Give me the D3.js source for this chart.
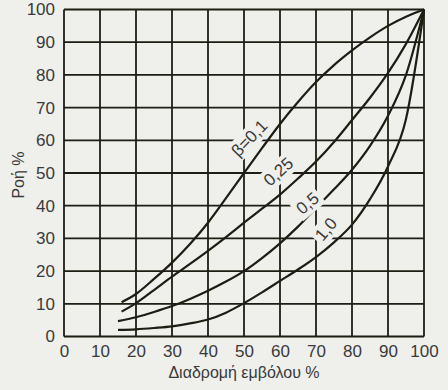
<!DOCTYPE html>
<html>
<head>
<meta charset="utf-8">
<script src="https://cdn.jsdelivr.net/npm/d3@7/dist/d3.min.js"></script>
<style>
  html, body { margin: 0; padding: 0; background: #efefec; }
  svg { display: block; }
  text { font-family: "Liberation Sans", Arial, Helvetica, sans-serif; fill: #3a3a3a; }
</style>
</head>
<body>
<svg id="chart" width="448" height="390"></svg>
<script>
// Axis ticks
const xTicks = [0, 10, 20, 30, 40, 50, 60, 70, 80, 90, 100];
const yTicks = [0, 10, 20, 30, 40, 50, 60, 70, 80, 90, 100];

// Installed flow characteristic for each β: [stroke %, flow %]
const flowBeta01 = [[16, 10.5], [20, 13], [25, 17.6], [30, 22.6], [35, 28.3], [40, 34.8], [45, 42.3], [50, 50],
                    [55, 57.6], [60, 65], [65, 71.7], [70, 77.8], [75, 83], [80, 87.5], [85, 91.5],
                    [90, 95], [95, 97.8], [100, 100]];
const flowBeta025 = [[16, 7.6], [20, 10.2], [25, 14.2], [30, 18.3], [35, 22.2], [40, 26.2], [45, 30.4],
                     [50, 34.8], [55, 39.1], [60, 43.4], [65, 48.3], [70, 53.5], [75, 59.5], [80, 66.2],
                     [85, 73], [90, 80.6], [95, 89.5], [100, 100]];
const flowBeta05 = [[15, 4.7], [20, 5.9], [25, 7.5], [30, 9.3], [35, 11.5], [40, 14], [45, 16.8],
                    [50, 20], [55, 24], [60, 28.5], [65, 33.6], [70, 39.3], [75, 45], [80, 51],
                    [85, 58.3], [90, 67.5], [95, 80], [100, 100]];
const flowBeta10 = [[15, 2], [20, 2.2], [25, 2.6], [30, 3.1], [35, 4], [40, 5.2], [45, 7.3], [50, 10.2],
                    [55, 13.5], [60, 17], [65, 20.5], [70, 24.3], [75, 28.8], [80, 34.2], [85, 42],
                    [90, 52], [95, 66.5], [100, 100]];

const curveLabels = ["β=0,1", "0,25", "0,5", "1,0"];
const xTitle = "Διαδρομή εμβόλου %";
const yTitle = "Ροή %";

const svg = d3.select("#chart");
const bg = "#efefec";
const ink = "#1d1d14";

const x = d3.scaleLinear().domain([0, 100]).range([64, 424]);
const y = d3.scaleLinear().domain([0, 100]).range([336.5, 9.5]);

// Grid
const grid = svg.append("g").attr("stroke", ink).attr("stroke-width", 1.8);
grid.selectAll("line.v").data(xTicks).join("line")
  .attr("x1", d => x(d)).attr("x2", d => x(d))
  .attr("y1", y(0)).attr("y2", y(100));
grid.selectAll("line.h").data(yTicks).join("line")
  .attr("y1", d => y(d)).attr("y2", d => y(d))
  .attr("x1", x(0)).attr("x2", x(100));

// Axes (tick labels only; lines come from the grid)
const xAxis = d3.axisBottom(x).tickValues(xTicks).tickSize(0).tickPadding(8);
const gx = svg.append("g").attr("transform", `translate(0,${y(0)})`).call(xAxis);
gx.select(".domain").remove();
gx.selectAll("text").attr("font-size", 17).attr("font-family", null).attr("fill", "#3a3a3a");

const yAxis = d3.axisLeft(y).tickValues(yTicks).tickSize(0).tickPadding(9);
const gy = svg.append("g").attr("transform", `translate(${x(0)},0)`).call(yAxis);
gy.select(".domain").remove();
gy.selectAll("text").attr("font-size", 17).attr("font-family", null).attr("fill", "#3a3a3a");

// Curve label placement (data coordinates of the label centre, rotation)
const labelPlace = [
  { at: [51.4, 60.7], rot: -46 },
  { at: [59.5, 50.5], rot: -42 },
  { at: [67.6, 40.8], rot: -40 },
  { at: [72.7, 32.9], rot: -50 }
];

const labelG = svg.append("g");
curveLabels.forEach((txt, i) => {
  const p = labelPlace[i];
  const g = labelG.append("g")
    .attr("transform", `translate(${x(p.at[0])},${y(p.at[1])}) rotate(${p.rot})`);
  const t = g.append("text")
    .attr("text-anchor", "middle").attr("dy", "0.36em")
    .attr("font-size", 17).text(txt);
  const b = t.node().getBBox();
  g.insert("rect", "text")
    .attr("x", b.x - 3).attr("y", b.y - 1)
    .attr("width", b.width + 6).attr("height", b.height + 2)
    .attr("fill", bg);
});

// Curves
const line = d3.line().x(d => x(d[0])).y(d => y(d[1])).curve(d3.curveMonotoneX);
const curves = svg.append("g").attr("fill", "none").attr("stroke", ink).attr("stroke-width", 2.2);
[flowBeta01, flowBeta025, flowBeta05, flowBeta10].forEach(s => {
  curves.append("path").attr("d", line(s));
});
labelG.raise();

// Axis titles
svg.append("text").attr("x", 244).attr("y", 378)
  .attr("text-anchor", "middle").attr("font-size", 16).text(xTitle);
svg.append("text")
  .attr("transform", `translate(24,175) rotate(-90)`)
  .attr("text-anchor", "middle").attr("font-size", 16).text(yTitle);
</script>
</body>
</html>
